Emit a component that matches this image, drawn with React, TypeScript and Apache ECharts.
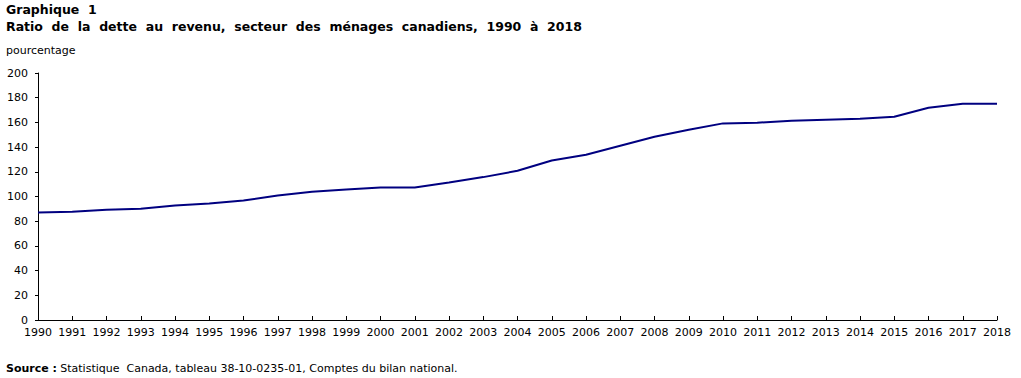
import React, { useEffect, useRef } from "react";
import * as echarts from "echarts";

// Years shown along the horizontal axis
const years: string[] = [
  "1990", "1991", "1992", "1993", "1994", "1995", "1996", "1997", "1998", "1999",
  "2000", "2001", "2002", "2003", "2004", "2005", "2006", "2007", "2008", "2009",
  "2010", "2011", "2012", "2013", "2014", "2015", "2016", "2017", "2018",
];

// Household debt-to-income ratio, percent
const ratio: number[] = [
  87.0, 87.6, 89.2, 90.0, 92.7, 94.3, 96.8, 100.8, 103.8, 105.7,
  107.3, 107.3, 111.4, 115.7, 120.8, 129.2, 133.8, 141.1, 148.4, 154.0,
  159.2, 159.7, 161.4, 162.2, 163.0, 164.6, 171.9, 175.1, 175.1,
];

const FONT = "'DejaVu Sans', Verdana, sans-serif";

export default function App() {
  const ref = useRef<HTMLDivElement>(null);

  useEffect(() => {
    if (!ref.current) return;
    const chart = echarts.init(ref.current, null, { renderer: "svg" });
    chart.setOption({
      animation: false,
      backgroundColor: "#ffffff",
      textStyle: { fontFamily: FONT },
      graphic: [
        {
          type: "text",
          left: 6,
          top: 3,
          style: {
            text: "Graphique  1",
            font: `bold 12.5px ${FONT}`,
            fill: "#000",
          },
        },
        {
          type: "text",
          left: 6,
          top: 20,
          style: {
            text: "Ratio  de  la  dette  au  revenu,  secteur  des  ménages  canadiens,  1990  à  2018",
            font: `bold 12.5px ${FONT}`,
            fill: "#000",
          },
        },
        {
          type: "text",
          left: 6,
          top: 45,
          style: {
            text: "pourcentage",
            font: `11px ${FONT}`,
            fill: "#000",
          },
        },
        {
          type: "text",
          left: 6,
          top: 362,
          style: {
            rich: {
              b: { font: `bold 11px ${FONT}`, fill: "#000" },
              n: { font: `11px ${FONT}`, fill: "#000" },
            },
            text: "{b|Source :} {n|Statistique  Canada, tableau 38-10-0235-01, Comptes du bilan national.}",
          },
        },
      ],
      grid: {
        left: 38,
        right: 24,
        top: 73,
        bottom: 58,
        containLabel: false,
      },
      xAxis: {
        type: "category",
        data: years,
        boundaryGap: false,
        axisLine: { lineStyle: { color: "#000", width: 1 } },
        axisTick: { inside: true, length: 4, lineStyle: { color: "#000" } },
        axisLabel: {
          color: "#000",
          fontSize: 11,
          fontFamily: FONT,
          margin: 7,
          interval: 0,
        },
        splitLine: { show: false },
      },
      yAxis: {
        type: "value",
        min: 0,
        max: 200,
        interval: 20,
        axisLine: { show: true, lineStyle: { color: "#000", width: 1 } },
        axisTick: { show: true, length: 3, lineStyle: { color: "#000" } },
        axisLabel: {
          color: "#000",
          fontSize: 11,
          fontFamily: FONT,
          margin: 10,
        },
        splitLine: { show: false },
      },
      series: [
        {
          type: "line",
          data: ratio,
          symbol: "none",
          lineStyle: { color: "#000080", width: 2 },
        },
      ],
    });
    return () => chart.dispose();
  }, []);

  return (
    <div
      ref={ref}
      style={{ position: "fixed", left: 0, top: 0, width: 1021, height: 378 }}
    />
  );
}
